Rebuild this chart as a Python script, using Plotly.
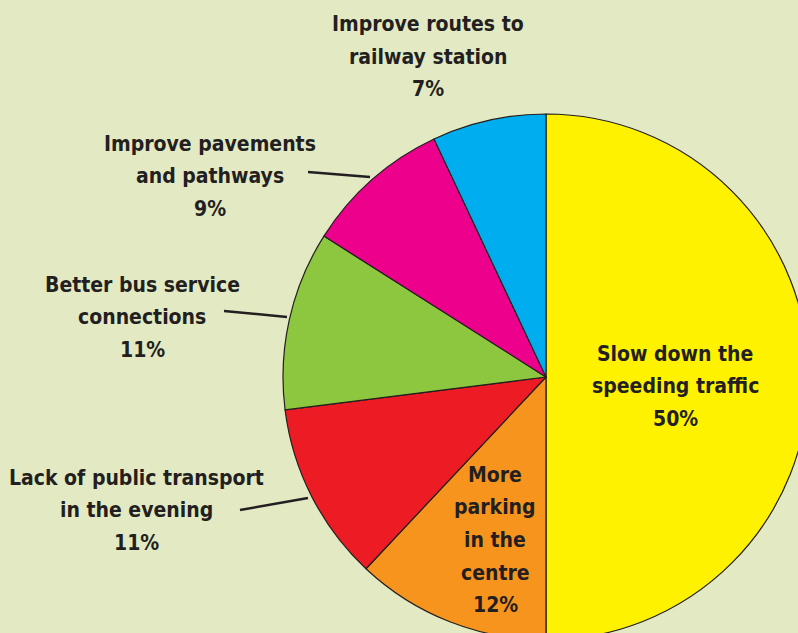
import plotly.graph_objects as go

# Data
labels = [
    "Slow down the speeding traffic",
    "More parking in the centre",
    "Lack of public transport in the evening",
    "Better bus service connections",
    "Improve pavements and pathways",
    "Improve routes to railway station",
]
label_lines = [
    ["Slow down the", "speeding traffic"],
    ["More", "parking", "in the", "centre"],
    ["Lack of public transport", "in the evening"],
    ["Better bus service", "connections"],
    ["Improve pavements", "and pathways"],
    ["Improve routes to", "railway station"],
]
values = [50, 12, 11, 11, 9, 7]
colors = ["#fff200", "#f7941d", "#ed1c24", "#8dc63f", "#ec008c", "#00aeef"]

# Layout (pixels)
W, H = 810, 642
ML, MT, MR, MB = 283, 114, 1, 2
PW, PH = W - ML - MR, H - MT - MB

BG = "#e3e9c3"
TXT = "#231f20"
FONT = "DejaVu Sans Condensed"
FS = 21
LINE_H = 32.5

# label centres (pixels) and leader lines (pixels)
label_pos = [(675, 386), (495, 540), (136, 510), (142, 317), (210, 176), (428, 57)]
leaders = [None, None, ((240, 510), (308, 498)), ((224, 311), (287, 317)),
           ((308, 172), (370, 177)), None]


def px2paper(x, y):
    return (x - ML) / PW, (H - MB - y) / PH


fig = go.Figure(go.Pie(
    labels=labels,
    values=values,
    sort=False,
    direction="clockwise",
    rotation=0,
    marker=dict(colors=colors, line=dict(color=TXT, width=1.2)),
    textinfo="none",
    hoverinfo="label+percent",
    showlegend=False,
    domain=dict(x=[0, 1], y=[0, 1]),
))

annotations = []
shapes = []
for lines, v, pos, ld in zip(label_lines, values, label_pos, leaders):
    rows = lines + [f"{v}%"]
    n = len(rows)
    for i, row in enumerate(rows):
        py = pos[1] + (i - (n - 1) / 2) * LINE_H
        x, y = px2paper(pos[0], py)
        annotations.append(dict(
            x=x, y=y, xref="paper", yref="paper",
            text=f"<b>{row}</b>",
            showarrow=False, align="center", xanchor="center", yanchor="middle",
            font=dict(family=FONT, size=FS, color=TXT),
        ))
    if ld:
        (x0, y0), (x1, y1) = ld
        a0 = px2paper(x0, y0)
        a1 = px2paper(x1, y1)
        shapes.append(dict(type="line", xref="paper", yref="paper",
                           x0=a0[0], y0=a0[1], x1=a1[0], y1=a1[1],
                           line=dict(color=TXT, width=2.5)))

fig.update_layout(
    width=W, height=H,
    margin=dict(l=ML, r=MR, t=MT, b=MB, autoexpand=False),
    paper_bgcolor=BG, plot_bgcolor=BG,
    annotations=annotations, shapes=shapes,
)

fig.write_html(
    "out.html",
    config={"displayModeBar": False},
    post_script="document.body.style.margin='0';document.body.style.overflow='hidden';document.documentElement.style.overflow='hidden';",
)
